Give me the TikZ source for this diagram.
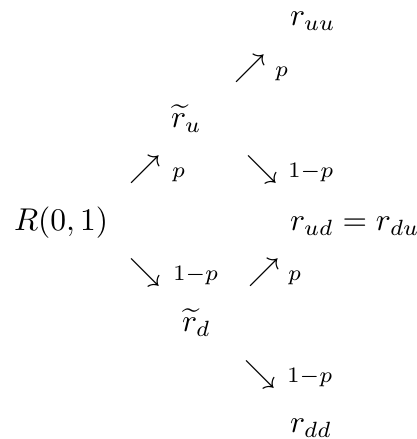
\documentclass[tikz,border=0pt]{standalone}
\usepackage{amsmath}
\begin{document}
\begin{tikzpicture}[x=0.3175pt,y=-0.3175pt,
  lbl/.style={inner sep=0pt, outer sep=0pt, anchor=base west},
  sml/.style={lbl, font=\scriptsize}]
\useasboundingbox (0,0) rectangle (417,439);
% row 1
\node[lbl] (ruu) at (290,25.5) {$r_{uu}$};
% row 2
\node[lbl] (a1) at (234,76.5) {$\nearrow$};
\node[lbl] (p1) at (275,76.5) {$\scriptstyle p$};
% row 3
\node[lbl] (ru) at (171,127.5) {$\widetilde{r}_u$};
% row 4
\node[lbl] (a2) at (129,178) {$\nearrow$};
\node[lbl] (p2) at (172,178) {$\scriptstyle p$};
\node[lbl] (a3) at (246,178) {$\searrow$};
\node[lbl] (q1) at (288,178) {$\scriptstyle 1-p$};
% row 5
\node[lbl] (R) at (14,231) {$R(0,1)$};
\node[lbl] (rud) at (290,231) {$r_{ud}=r_{du}$};
% row 6
\node[lbl] (a4) at (129,281) {$\searrow$};
\node[lbl] (q2) at (173,281) {$\scriptstyle 1-p$};
\node[lbl] (a5) at (248,281) {$\nearrow$};
\node[lbl] (p3) at (288,281) {$\scriptstyle p$};
% row 7
\node[lbl] (rd) at (182,331.5) {$\widetilde{r}_d$};
% row 8
\node[lbl] (a6) at (244,382) {$\searrow$};
\node[lbl] (q3) at (287,382) {$\scriptstyle 1-p$};
% row 9
\node[lbl] (rdd) at (290,432.5) {$r_{dd}$};
\end{tikzpicture}
\end{document}
